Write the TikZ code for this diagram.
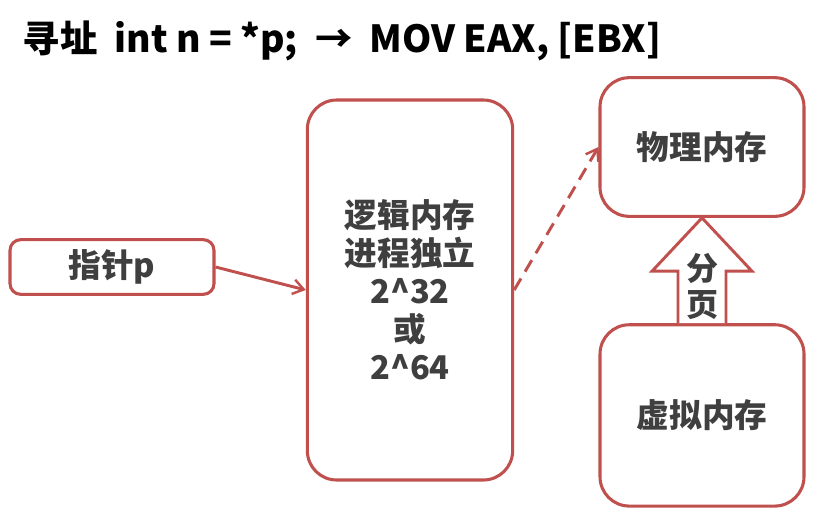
\documentclass[tikz,border=0pt]{standalone}
\usepackage{fontspec}
\setmainfont{Noto Sans CJK SC}
\usetikzlibrary{positioning,arrows.meta,calc}

\definecolor{boxred}{HTML}{C0504D}
\definecolor{txtgray}{HTML}{3F3F3F}

\begin{document}
\begin{tikzpicture}[
    x=0.75pt, y=-0.75pt,
    font=\bfseries\fontsize{24.5}{28.5}\selectfont,
    block/.style={draw=boxred, line width=2.3pt, fill=white, rounded corners=22pt,
        text=txtgray, align=center, inner sep=0pt},
    arrow/.style={-{Straight Barb[length=8pt,width=11pt,line width=1.8pt]}, draw=boxred, line width=2.2pt},
    bigarrow/.style={draw=boxred, line width=2.2pt, fill=white, line join=miter}
]
\useasboundingbox[fill=white] (0,0) rectangle (820,508);

\node[anchor=west, font=\bfseries\fontsize{28}{32}\selectfont] (title) at (18,41) {寻址\ \ int n = *p;\ \ →\ \ MOV EAX, [EBX]};

\node[block, rounded corners=8pt, minimum width=153pt, minimum height=41pt] (ptr) at (112,267) {指针p};
\node[block, minimum width=154pt, minimum height=285pt] (logic) at (410,290) {逻辑内存\\进程独立\\2\textasciicircum32\\或\\2\textasciicircum64};
\node[block, minimum width=153pt, minimum height=104pt] (phys) at (702,147) {物理内存};
\node[block, minimum width=153pt, minimum height=136pt, below=79pt of phys] (virt) {虚拟内存};

\draw[arrow] (ptr.east) -- (logic.west);
\draw[arrow, dashed, dash pattern=on 10pt off 6pt] (logic.east) -- (phys.west);

% paging arrow
\draw[bigarrow] ($(virt.north)+(-24,0)$) -- ++(0,-52) -- ++(-26,0) -- (phys.south)
    -- ($(virt.north)+(50,-52)$) -- ++(-26,0) -- ++(0,52);
\node[text=txtgray, align=center, font=\bfseries\fontsize{24}{27}\selectfont] (fenye) at ($(virt.north)+(0,-37)$) {分\\页};
\end{tikzpicture}
\end{document}
